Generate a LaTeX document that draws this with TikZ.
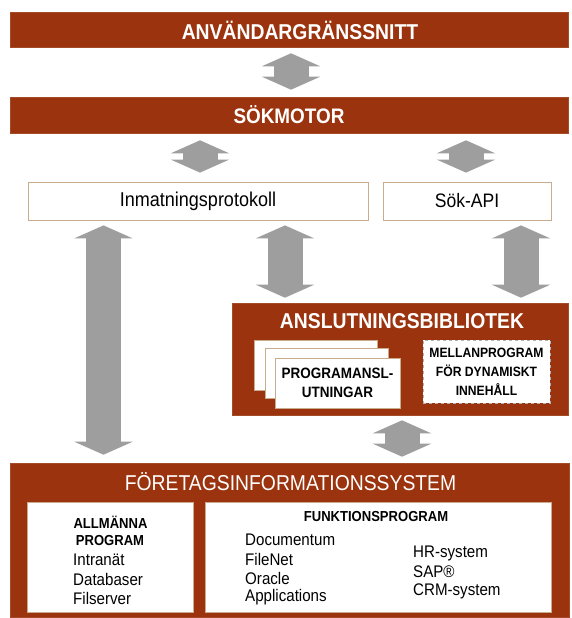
\documentclass[tikz,border=0pt]{standalone}
\usepackage{fontspec}
\setmainfont{Liberation Sans}
\newfontfamily\cf[FakeStretch=0.9]{Liberation Sans}
\usetikzlibrary{arrows.meta}
\definecolor{brn}{RGB}{155,52,14}
\definecolor{tanc}{RGB}{200,172,140}
\definecolor{arr}{RGB}{158,158,158}
\begin{document}
\begin{tikzpicture}[x=1pt,y=-1pt,
  bar/.style={fill=brn, draw=brn!80!tanc, line width=0.6pt, inner sep=0pt, text=white},
  ttl/.style={text=white, inner sep=0pt, font=\cf\bfseries\fontsize{21.5}{24}\selectfont},
  wbox/.style={fill=white, draw=tanc, line width=0.8pt, inner sep=0pt},
  page/.style={fill=white, draw=tanc, line width=0.6pt, inner sep=0pt, minimum width=123pt, minimum height=50pt},
  dbl/.style={draw=arr, line width=35pt, {Triangle[width=58pt,length=13pt]}-{Triangle[width=58pt,length=13pt]}},
  lst/.style={anchor=west, inner sep=0pt, font=\cf\fontsize{16.8}{19}\selectfont},
  hd/.style={inner sep=0pt, font=\cf\bfseries\fontsize{14.5}{17}\selectfont}
]
\useasboundingbox (0,0) rectangle (571,618);
\fill[white] (0,0) rectangle (571,618);

% top bars
\node[bar, minimum width=558pt, minimum height=35pt] (ui) at (289,29.5) {};
\node[ttl] (uitext) at (300,30) {ANVÄNDARGRÄNSSNITT};
\node[bar, minimum width=558pt, minimum height=36pt, font=\cf\bfseries\fontsize{21}{24}\selectfont] (se) at (289,115) {SÖKMOTOR};

% protocol boxes
\node[wbox, minimum width=340pt, minimum height=38pt, font=\cf\fontsize{20}{22}\selectfont] (inm) at (198,201) {Inmatningsprotokoll};
\node[wbox, minimum width=168pt, minimum height=38pt, font=\cf\fontsize{19.5}{22}\selectfont] (api) at (467,201) {Sök-API};

% connector library
\node[bar, minimum width=336pt, minimum height=112pt] (lib) at (400,359) {};
\node[ttl] (libtext) at (402,321) {ANSLUTNINGSBIBLIOTEK};
\node[page] (pg1) at (316,365) {};
\node[page] (pg2) at (326.5,373) {};
\node[page, minimum width=125pt, align=center, font=\cf\bfseries\fontsize{15}{19}\selectfont] (pg3) at (337.5,383) {PROGRAMANSL-\\UTNINGAR};
\node[fill=white, draw=gray!60, dashed, line width=0.7pt, inner sep=0pt, minimum width=127pt, minimum height=63pt, align=center, font=\cf\bfseries\fontsize{13.5}{19}\selectfont] (mid) at (486.5,371.5) {MELLANPROGRAM\\FÖR DYNAMISKT\\INNEHÅLL};

% enterprise information systems
\node[bar, minimum width=559pt, minimum height=154pt] (eis) at (289.5,540) {};
\node[text=white, inner sep=0pt, font=\cf\fontsize{21.5}{24}\selectfont] (eistext) at (290.5,482) {FÖRETAGSINFORMATIONSSYSTEM};
\node[wbox, minimum width=166pt, minimum height=110pt] (gen) at (110,557) {};
\node[wbox, minimum width=346pt, minimum height=110pt] (fun) at (378,557) {};

\node[hd] (g1) at (110.5,522) {ALLMÄNNA};
\node[hd] (g2) at (110,541) {PROGRAM};
\node[lst] (g3) at (73,560) {Intranät};
\node[lst] (g4) at (73,579) {Databaser};
\node[lst] (g5) at (73,598) {Filserver};

\node[hd] (f0) at (376,517) {FUNKTIONSPROGRAM};
\node[lst] (f1) at (245,540) {Documentum};
\node[lst] (f2) at (245,559) {FileNet};
\node[lst] (f3) at (245,578) {Oracle};
\node[lst] (f4) at (245,597) {Applications};
\node[lst] (f5) at (413,553) {HR-system};
\node[lst] (f6) at (413,572) {SAP®};
\node[lst] (f7) at (413,591) {CRM-system};

% connectors
\coordinate (c1) at (291,0);
\coordinate (c2) at (200,0);
\coordinate (c3) at (466,0);
\coordinate (c4) at (103.5,0);
\coordinate (c5) at (285,0);
\coordinate (c6) at (521,0);
\coordinate (c7) at (402,0);
\draw[dbl, shorten <=6pt, shorten >=7pt] (ui.south -| c1) -- (se.north -| c1);
\draw[dbl, shorten <=7pt, shorten >=9pt] (se.south -| c2) -- (inm.north -| c2);
\draw[dbl, shorten <=7pt, shorten >=9pt] (se.south -| c3) -- (api.north -| c3);
\draw[dbl, shorten <=5pt, shorten >=8pt] (inm.south -| c4) -- (eis.north -| c4);
\draw[dbl, shorten <=5pt, shorten >=5pt] (inm.south -| c5) -- (lib.north -| c5);
\draw[dbl, shorten <=5pt, shorten >=5pt] (api.south -| c6) -- (lib.north -| c6);
\draw[dbl, shorten <=5pt, shorten >=6pt] (lib.south -| c7) -- (eis.north -| c7);
\end{tikzpicture}
\end{document}
